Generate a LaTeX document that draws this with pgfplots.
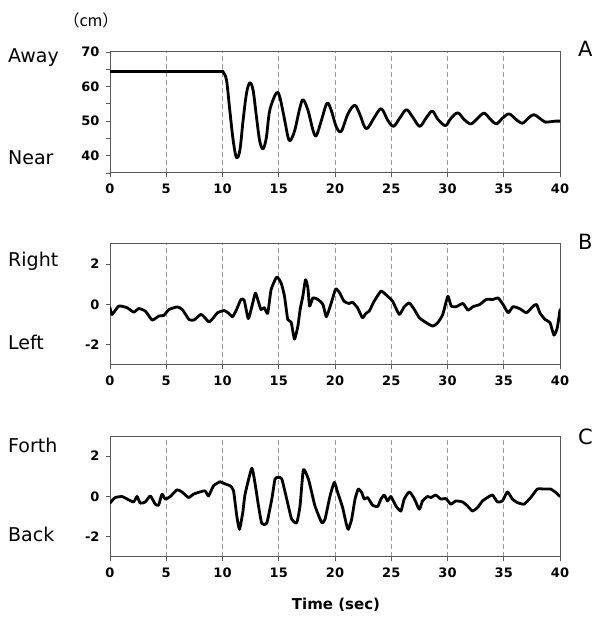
\documentclass[border=0pt]{standalone}
\usepackage{fontspec}
\usepackage{pgfplots}
\pgfplotsset{compat=1.18}
\setmainfont{DejaVu Sans}
\newfontfamily\tickfont{DejaVu Sans}
\newfontfamily\cjk{Noto Sans CJK JP}

\pgfplotsset{
  panel/.style={
    width=450pt, height=121pt, scale only axis,
    xmin=0, xmax=40, xtick={0,5,...,40},
    tick align=outside, xtick pos=left, ytick pos=left,
    major tick length=4pt,
    axis line style={draw=black!65, line width=1pt},
    every tick/.style={draw=black!65, line width=0.8pt},
    xmajorgrids, grid style={dashed, black!40, line width=0.7pt, dash pattern=on 5pt off 3pt},
    tick label style={font=\tickfont\bfseries\fontsize{13}{15}\selectfont},
    /pgf/number format/assume math mode=true,
    xticklabel style={yshift=-3pt},
    yticklabel style={xshift=-3pt},
  },
  curve/.style={black, line width=2.8pt, line join=round, line cap=round},
}

\begin{document}
\begin{tikzpicture}
\useasboundingbox (0,0) rectangle (598pt,618pt);

% A: distance
\begin{axis}[panel, at={(110pt,445pt)}, anchor=south west,
  ymin=35, ymax=70, ytick={35,40,...,70}, yticklabels={,40,,50,,60,,70}]
\addplot[curve] coordinates {(0,64.4)(10,64.4)};
\addplot[curve, smooth, tension=0.55] coordinates {
(10,64.4)(10.06,64.2)(10.36,61.8)(10.65,53.1)(10.95,44.4)(11.24,39.5)
(11.54,41.5)(11.83,50.2)(12.13,58)(12.43,61.1)(12.72,58.9)(13.02,51.2)(13.31,44.2)
(13.61,42)(13.9,45.3)(14.2,53.1)(14.79,58.2)(15.09,57)(15.53,50.2)(15.83,45.3)
(16.04,44.4)(16.42,47.3)(16.86,53.6)(17.16,56.2)(17.6,53.1)(18.05,47.3)(18.34,45.8)
(18.79,50.2)(19.29,55.2)(19.67,53.1)(20.12,48.3)(20.56,47.1)(21.15,52.1)(21.75,54.6)
(22.19,52.1)(22.78,47.8)(23.52,51.2)(24.11,53.6)(24.7,50.2)(25.2,48.5)(25.76,50.9)
(26.35,53.3)(26.94,51)(27.53,48.5)(28.12,51)(28.65,52.9)(29.15,50.5)(29.82,48.7)
(30.3,50.8)(30.91,52.4)(31.5,50.4)(32.09,49.2)(32.7,50.9)(33.26,52.3)(33.85,50.4)
(34.35,49.2)(34.9,50.9)(35.47,52.1)(36.05,50.6)(36.65,49.4)(37.2,50.9)(37.68,51.9)
(38.2,50.8)(38.7,49.7)(39.1,49.8)(39.59,50.0)(40,50.0)
};
\end{axis}

% B: right/left
\begin{axis}[panel, at={(110pt,253pt)}, anchor=south west,
  ymin=-3, ymax=3, ytick={-2,0,2}, yticklabels={-2,0,2}]
\addplot[curve, smooth, tension=0.3] coordinates {
(0,-0.16)(0.18,-0.5)(0.77,-0.08)(1.52,-0.16)(2.11,-0.38)(2.56,-0.2)(3.15,-0.33)
(3.75,-0.77)(4.35,-0.57)(4.79,-0.54)(5.24,-0.25)(5.98,-0.12)(6.43,-0.25)(7.02,-0.74)
(7.47,-0.77)(8.07,-0.49)(8.36,-0.61)(8.81,-0.87)(9.26,-0.61)(9.55,-0.41)(10.15,-0.3)
(10.6,-0.46)(10.89,-0.61)(11.25,-0.25)(11.64,0.25)(11.93,0.21)(12.29,-0.7)(12.62,-0.08)
(12.92,0.57)(13.18,0.16)(13.42,-0.25)(13.72,-0.16)(14.02,-0.44)(14.32,0.74)(14.82,1.36)
(15.21,1.07)(15.51,0.41)(15.8,-0.74)(16.1,-0.87)(16.4,-1.72)(16.7,-1.07)(16.9,-0.25)
(17.14,0.41)(17.38,1.23)(17.59,0.82)(17.74,-0.08)(18.04,0.33)(18.48,0.25)(18.93,0)
(19.23,-0.61)(19.67,0.08)(20.06,0.77)(20.42,0.57)(20.8,0.16)(21.25,0.05)(21.55,0.11)
(22.0,-0.16)(22.44,-0.66)(22.74,-0.44)(23.04,-0.33)(23.48,0.16)(24.08,0.66)(24.52,0.49)
(25.12,0.16)(25.71,-0.49)(26.16,-0.11)(26.6,0.08)(27.05,-0.25)(27.5,-0.66)(28.1,-0.9)
(28.69,-1.07)(29.14,-0.9)(29.58,-0.49)(30.03,0.41)(30.33,-0.08)(30.77,-0.11)(31.37,0.05)
(31.82,-0.28)(32.26,-0.11)(32.86,0)(33.45,0.25)(34.05,0.25)(34.49,0.33)(34.94,0)
(35.39,-0.41)(35.83,-0.11)(36.43,-0.21)(37.02,-0.41)(37.62,-0.08)(37.92,0)(38.21,-0.41)
(38.66,-0.74)(39.11,-0.9)(39.46,-1.52)(39.76,-1.15)(40,-0.25)
};
\end{axis}

% C: forth/back
\begin{axis}[panel, at={(110pt,61pt)}, anchor=south west,
  ymin=-3, ymax=3, ytick={-2,0,2}, yticklabels={-2,0,2}]
\addplot[curve, smooth, tension=0.3] coordinates {
(0,-0.33)(0.18,-0.2)(0.47,-0.05)(1.07,0)(1.51,-0.12)(2.1,-0.27)(2.4,0)(2.69,-0.33)
(3.14,-0.27)(3.58,0.03)(4.02,-0.38)(4.32,-0.43)(4.62,0.12)(4.91,-0.13)(5.36,0)
(5.95,0.33)(6.39,0.23)(6.98,-0.05)(7.43,0.12)(8.02,0.23)(8.46,0.28)(8.76,0.03)
(9.2,0.53)(9.79,0.73)(10.24,0.62)(10.68,0.53)(10.98,0.28)(11.27,-0.97)(11.51,-1.63)
(11.8,-0.8)(12.01,0.12)(12.6,1.4)(12.9,0.62)(13.2,-0.47)(13.49,-1.33)(13.93,-1.33)
(14.38,-0.13)(14.67,0.87)(14.97,0.95)(15.27,0.87)(15.71,-0.13)(16.15,-1.13)(16.6,-1.3)
(16.89,-0.47)(17.19,1.33)(17.63,0.87)(17.93,0.2)(18.22,-0.47)(18.82,-1.3)(19.11,-1.13)
(19.56,0.03)(19.94,0.7)(20.24,0.2)(20.68,-0.55)(20.98,-1.3)(21.18,-1.63)(21.48,-1.13)
(21.78,-0.13)(22.07,0.37)(22.37,0.2)(22.6,-0.13)(22.9,-0.05)(23.34,-0.43)(23.79,-0.5)
(24.08,-0.13)(24.38,0.07)(24.67,-0.22)(24.97,0)(25.41,-0.47)(25.86,-0.72)(26.15,-0.13)
(26.6,0.23)(27.04,-0.1)(27.49,-0.63)(27.78,-0.22)(28.22,0)(28.52,-0.05)(28.96,0.07)
(29.41,-0.13)(29.85,-0.1)(30.3,-0.38)(30.74,-0.22)(31.33,-0.27)(31.78,-0.47)(32.22,-0.72)
(32.66,-0.55)(33.11,-0.22)(33.55,-0.05)(34.0,0.07)(34.44,-0.27)(34.88,-0.22)(35.33,0.23)
(35.77,-0.13)(36.21,-0.3)(36.8,-0.38)(37.4,-0.05)(37.99,0.37)(38.58,0.37)(39.17,0.37)
(39.62,0.2)(40,0.0)
};
\end{axis}

% side labels
\begin{scope}[every node/.style={inner sep=0pt, font=\fontsize{19}{22}\selectfont}]
\node[anchor=base west] at (8pt,555pt) {Away};
\node[anchor=base west] at (8pt,453pt) {Near};
\node[anchor=base west] at (8pt,351pt) {Right};
\node[anchor=base west] at (8pt,268pt) {Left};
\node[anchor=base west] at (8pt,165pt) {Forth};
\node[anchor=base west] at (8pt,76pt) {Back};
\node[anchor=base west, font=\fontsize{21}{24}\selectfont] at (578pt,561pt) {A};
\node[anchor=base west, font=\fontsize{21}{24}\selectfont] at (578pt,368pt) {B};
\node[anchor=base west, font=\fontsize{21}{24}\selectfont] at (578pt,173pt) {C};
\end{scope}
\node[anchor=base, inner sep=0pt, font=\cjk\fontsize{16}{18}\selectfont] at (91pt,591pt) {（cm）};
\node[anchor=base, inner sep=0pt, font=\bfseries\fontsize{15}{17}\selectfont] at (336pt,9pt) {Time (sec)};
\end{tikzpicture}
\end{document}
